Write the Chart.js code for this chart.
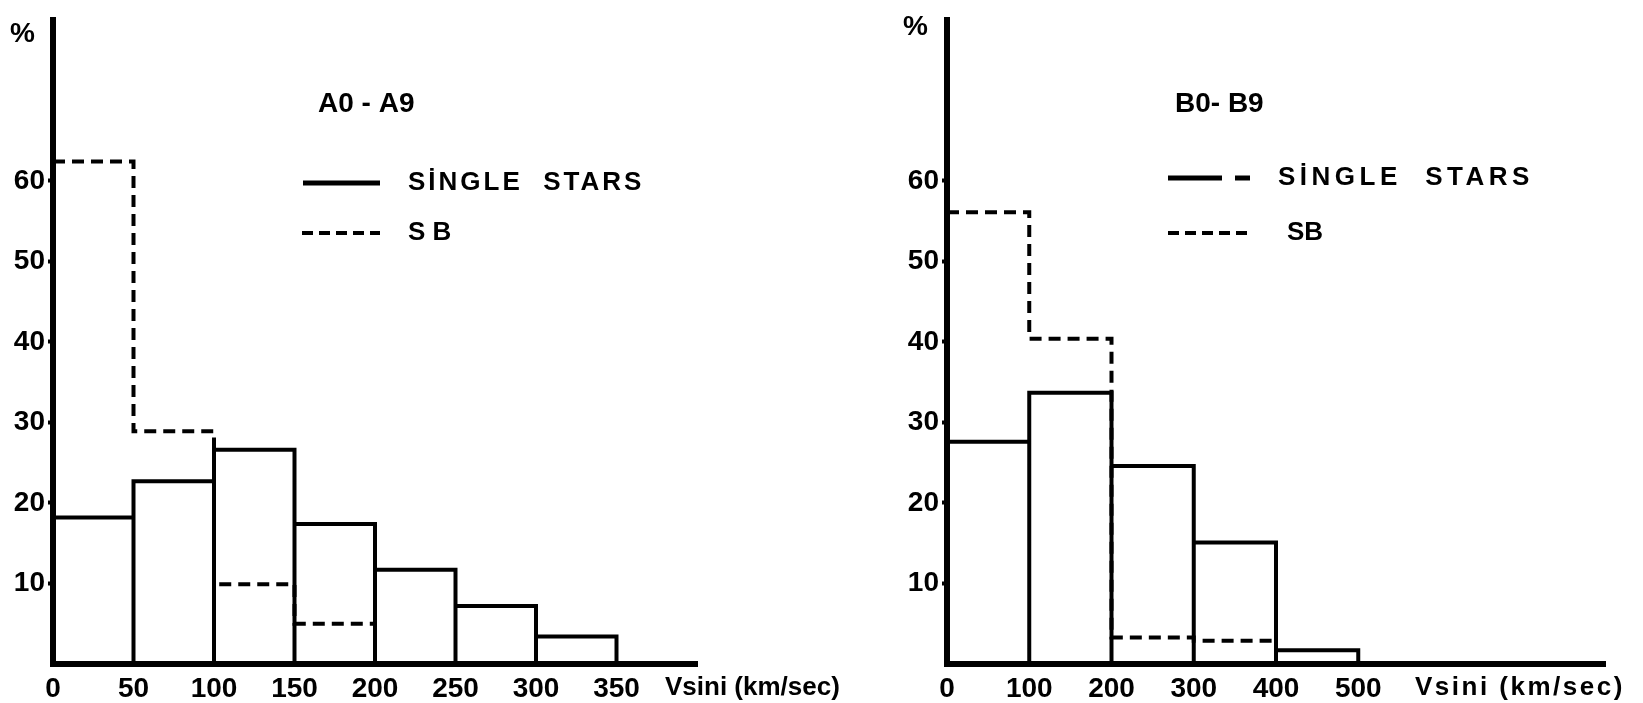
<!DOCTYPE html>
<html>
<head>
<meta charset="utf-8">
<script src="https://cdn.jsdelivr.net/npm/chart.js@4.4.1/dist/chart.umd.min.js"></script>
<style>
  html, body { margin: 0; padding: 0; background: #fff; }
  body { width: 1643px; height: 703px; position: relative; overflow: hidden; }
  canvas { position: absolute; top: 0; }
  #chartA { left: 0; }
  #chartB { left: 880px; }
</style>
</head>
<body>
<canvas id="chartA" width="880" height="703"></canvas>
<canvas id="chartB" width="763" height="703"></canvas>
<script>
// A0 - A9, bins of 50 km/sec (percent)
const binsA = [0, 50, 100, 150, 200, 250, 300, 350, 400];
const singleA = [18.2, 22.7, 26.6, 17.4, 11.7, 7.2, 3.4, 0];
const sbA = [62.4, 28.9, 9.9, 5.0, 0, 0, 0, 0];
const xTicksA = [0, 50, 100, 150, 200, 250, 300, 350];

// B0 - B9, bins of 100 km/sec (percent)
const binsB = [0, 100, 200, 300, 400, 500, 600, 700, 800];
const singleB = [27.6, 33.7, 24.6, 15.1, 1.7, 0, 0, 0];
const sbB = [56.1, 40.4, 3.3, 2.9, 0, 0, 0, 0];
const xTicksB = [0, 100, 200, 300, 400, 500];

const yTicks = [10, 20, 30, 40, 50, 60];
const yMax = 80;

const FONT = "Liberation Sans";
Chart.defaults.font.family = FONT;
Chart.defaults.color = "#000";

// histogram outline: every bin edge goes down to the baseline
function outline(bins, vals) {
  const pts = [];
  vals.forEach((v, i) => {
    pts.push({ x: bins[i], y: 0 }, { x: bins[i], y: v },
             { x: bins[i + 1], y: v }, { x: bins[i + 1], y: 0 });
  });
  return pts;
}

// step line for the SB distribution
function steps(bins, vals) {
  const pts = [];
  let last = 0;
  vals.forEach((v, i) => {
    if (v > 0) {
      pts.push({ x: bins[i], y: v }, { x: bins[i + 1], y: v });
      last = i + 1;
    }
  });
  pts.push({ x: bins[last], y: 0 });
  return pts;
}

function notesPlugin(notes) {
  return {
    id: "notes",
    afterDraw(chart) {
      const ctx = chart.ctx;
      ctx.save();
      ctx.fillStyle = "#000";
      ctx.strokeStyle = "#000";
      ctx.textBaseline = "middle";
      ctx.textAlign = "left";
      notes.texts.forEach(t => {
        ctx.font = "bold " + t.size + "px '" + FONT + "'";
        ctx.letterSpacing = (t.spacing || 0) + "px";
        ctx.fillText(t.text, t.x, t.y);
      });
      ctx.letterSpacing = "0px";
      notes.lines.forEach(l => {
        ctx.lineWidth = l.w;
        ctx.setLineDash(l.dash || []);
        ctx.beginPath();
        ctx.moveTo(l.x1, l.y);
        ctx.lineTo(l.x2, l.y);
        ctx.stroke();
      });
      ctx.restore();
    }
  };
}

function makeChart(id, c) {
  return new Chart(document.getElementById(id), {
    type: "line",
    data: {
      datasets: [
        {
          label: "SİNGLE STARS",
          data: outline(c.bins, c.single),
          borderColor: "#000",
          borderWidth: 4,
          pointRadius: 0,
          tension: 0,
          fill: false
        },
        {
          label: "SB",
          data: steps(c.bins, c.sb),
          borderColor: "#000",
          borderWidth: 4,
          borderDash: [12, 7],
          pointRadius: 0,
          tension: 0,
          fill: false
        }
      ]
    },
    options: {
      responsive: false,
      animation: false,
      layout: { padding: c.padding },
      plugins: { legend: { display: false }, tooltip: { enabled: false } },
      scales: {
        x: {
          type: "linear",
          min: 0,
          max: c.bins[c.bins.length - 1],
          afterBuildTicks: s => { s.ticks = c.xTicks.map(v => ({ value: v })); },
          afterFit: s => { s.height = c.xAxisH; },
          grid: { display: false, drawTicks: false },
          border: { display: true, color: "#000", width: 6 },
          ticks: { padding: 8, maxRotation: 0, font: { size: 28, weight: "bold" } }
        },
        y: {
          min: 0,
          max: yMax,
          afterBuildTicks: s => { s.ticks = yTicks.map(v => ({ value: v })); },
          afterFit: s => { s.width = c.yAxisW; },
          grid: { drawOnChartArea: false, drawTicks: true, tickLength: 5, tickWidth: 4, color: "#000" },
          border: { display: true, color: "#000", width: 6 },
          ticks: { padding: 3, font: { size: 28, weight: "bold" } }
        }
      }
    },
    plugins: [notesPlugin(c.notes)]
  });
}

makeChart("chartA", {
  bins: binsA, single: singleA, sb: sbA, xTicks: xTicksA,
  padding: { left: 0, top: 13, right: 183, bottom: 0 },
  yAxisW: 53, xAxisH: 39,
  notes: {
    texts: [
      { text: "%", x: 10, y: 34, size: 28 },
      { text: "A0 - A9", x: 318, y: 104, size: 28 },
      { text: "SİNGLE  STARS", x: 408, y: 183, size: 26, spacing: 3 },
      { text: "S B", x: 408, y: 233, size: 26 },
      { text: "Vsini (km/sec)", x: 665, y: 688, size: 26 }
    ],
    lines: [
      { x1: 303, x2: 380, y: 183, w: 5 },
      { x1: 302, x2: 380, y: 233, w: 4, dash: [11, 6] }
    ]
  }
});

makeChart("chartB", {
  bins: binsB, single: singleB, sb: sbB, xTicks: xTicksB,
  padding: { left: 0, top: 7, right: 38, bottom: 0 },
  yAxisW: 67, xAxisH: 39,
  notes: {
    texts: [
      { text: "%", x: 23, y: 27, size: 28 },
      { text: "B0- B9", x: 295, y: 104, size: 28 },
      { text: "SİNGLE  STARS", x: 398, y: 178, size: 26, spacing: 4.5 },
      { text: "SB", x: 407, y: 233, size: 26 },
      { text: "Vsini (km/sec)", x: 535, y: 688, size: 26, spacing: 2.5 }
    ],
    lines: [
      { x1: 288, x2: 342, y: 178, w: 5 },
      { x1: 355, x2: 370, y: 178, w: 5 },
      { x1: 288, x2: 370, y: 233, w: 4, dash: [11, 6] }
    ]
  }
});
</script>
</body>
</html>
